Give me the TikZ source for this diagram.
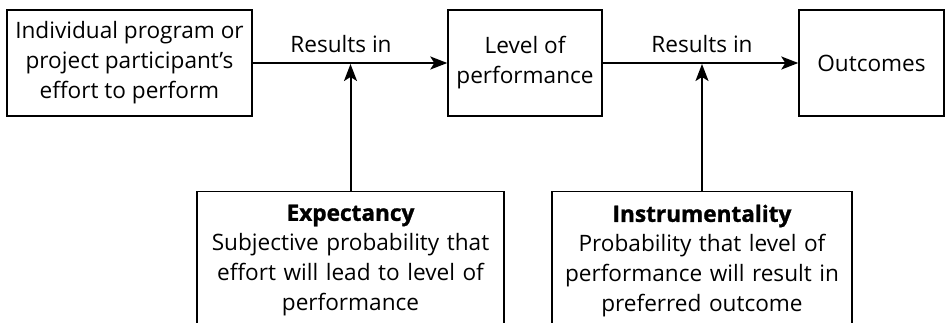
\documentclass[tikz,border=0pt]{standalone}
\usepackage{fontspec}
\setmainfont{Open Sans}
\newfontfamily\heavyfont{Open Sans}[BoldFeatures={FakeBold=1.2}]
\usetikzlibrary{arrows.meta}
\newcommand\boxtitle[1]{{\heavyfont\bfseries #1}}
\begin{document}
\begin{tikzpicture}[x=1pt,y=-1pt,
  txt/.style={font=\fontsize{22.6}{30}\selectfont},
  box/.style={txt, draw, line width=1.4pt, align=center, inner sep=0pt},
  infobox/.style={txt, draw, line width=1.4pt, align=center, anchor=north,
    inner xsep=3.5pt, inner ysep=13pt},
  flow/.style={line width=2pt, -{Stealth[length=17pt,width=13pt,inset=4pt]}},
  lbl/.style={txt, inner sep=0pt, anchor=base}]
\useasboundingbox (0,0) rectangle (945,322);
\clip (0,0) rectangle (945,322);

% top row
\node[box, minimum width=245, minimum height=106] (effort) at (129.5,63)
  {Individual program or\\project participant’s\\effort to perform};
\node[box, minimum width=154, minimum height=106] (level) at (525,63)
  {Level of\\performance};
\node[box, minimum width=145, minimum height=106] (outcomes) at (871.5,63)
  {Outcomes};

% influencing factors (boxes run past the lower edge)
\node[infobox, text width=300] (expect) at (350.5,191)
  {\boxtitle{Expectancy}\\Subjective probability that\\effort will lead to level of\\performance\\[30pt]\mbox{}};
\node[infobox, text width=293] (instr) at (702,191)
  {\boxtitle{Instrumentality}\\Probability that level of\\performance will result in\\preferred outcome\\[30pt]\mbox{}};

% connectors
\draw[flow] (effort.east) -- (level.west);
\draw[flow] (level.east) -- (outcomes.west);
\node[lbl] (r1) at (341,52) {Results in};
\node[lbl] (r2) at (702,52) {Results in};
\draw[flow, shorten >=1pt] (expect.north) -- (expect.north |- level.west);
\draw[flow, shorten >=1pt] (instr.north) -- (instr.north |- level.east);
\end{tikzpicture}
\end{document}
